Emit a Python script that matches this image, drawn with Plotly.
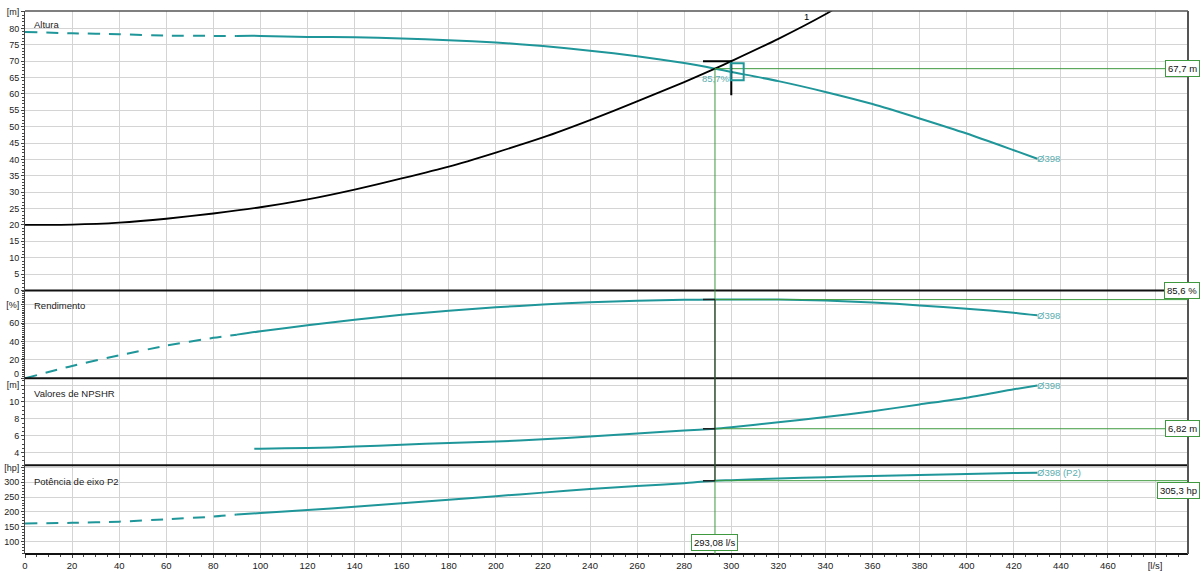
import plotly.graph_objects as go
from plotly.subplots import make_subplots

# ---- pump curve data (flow in l/s) ----
# head curve: dashed extension (low-flow region) and solid working range
head_ext_flow = [0, 20, 40, 60, 80, 90]
head_ext = [78.9, 78.5, 78.2, 77.8, 77.7, 77.7]
head_flow = [90, 100, 120, 140, 160, 180, 200, 220, 240, 260, 280, 293.08,
             300, 320, 340, 360, 380, 400, 420, 430]
head = [77.7, 77.7, 77.4, 77.3, 76.9, 76.4, 75.7, 74.6, 73.2, 71.5, 69.4, 67.7,
        66.7, 63.9, 60.6, 56.9, 52.5, 47.9, 42.8, 40.2]

# system curve "1"
sys_flow = [0, 20, 40, 60, 80, 100, 120, 140, 160, 180, 200, 220, 240, 260,
            280, 293.08, 300, 320, 340, 344]
sys_head = [20.0, 20.1, 20.7, 21.9, 23.5, 25.4, 27.8, 30.8, 34.2, 37.8, 42.1,
            46.7, 52.0, 57.7, 63.6, 67.7, 70.0, 76.8, 84.3, 86.0]

# efficiency
eff_ext_flow = [0, 20, 40, 60, 80, 90]
eff_ext = [0, 13.5, 25.0, 35.5, 44.0, 47.5]
eff_flow = [90, 100, 120, 140, 160, 180, 200, 220, 240, 260, 280, 293.08,
            300, 320, 340, 360, 380, 400, 420, 430]
eff = [47.5, 51.2, 57.6, 63.6, 69.0, 73.5, 77.2, 80.2, 82.7, 84.4, 85.4, 85.6,
       85.7, 85.6, 84.6, 82.5, 79.3, 75.7, 71.4, 68.5]

# NPSHR
npsh_flow = [97.4, 100, 120, 140, 160, 180, 200, 220, 240, 260, 280, 293.08,
             300, 320, 340, 360, 380, 400, 420, 430]
npsh = [4.45, 4.46, 4.53, 4.70, 4.93, 5.12, 5.30, 5.57, 5.90, 6.25, 6.62, 6.82,
        7.00, 7.60, 8.20, 8.90, 9.70, 10.5, 11.5, 11.95]

# shaft power P2
p2_ext_flow = [0, 20, 40, 60, 80, 90]
p2_ext = [161, 163, 167, 175, 184, 191]
p2_flow = [90, 100, 120, 140, 160, 180, 200, 220, 240, 260, 280, 293.08,
           300, 320, 340, 360, 380, 400, 420, 430]
p2 = [191, 196, 206, 217, 229, 241, 253, 265, 277, 287, 297, 305.3,
      307, 312.5, 317, 321, 324, 328, 331, 332]

# duty point
duty_flow = 293.08
duty_head = 67.7
duty_eff = 85.6
duty_npsh = 6.82
duty_p2 = 305.3
req_flow = 300.0
req_head = 70.0
req_head_low = 59.6
tick_start_flow = 288.0
marker_flow = 302.3
marker_head = 66.9
marker_label = "85,7%"

duty_labels = ["67,7 m", "85,6 %", "6,82 m", "305,3 hp", "293,08 l/s"]
curve_label = "Ø398"
curve_label_p2 = "Ø398 (P2)"
system_label = "1"
system_label_pos = (332, 83.5)

panel_titles = ["Altura", "Rendimento", "Valores de NPSHR", "Potência de eixo P2"]

# axis ticks
x_ticks = [0, 20, 40, 60, 80, 100, 120, 140, 160, 180, 200, 220, 240, 260,
           280, 300, 320, 340, 360, 380, 400, 420, 440, 460, 480]
x_tick_text = ["0", "20", "40", "60", "80", "100", "120", "140", "160", "180",
               "200", "220", "240", "260", "280", "300", "320", "340", "360",
               "380", "400", "420", "440", "460", "[l/s]"]
h_ticks = [0, 5, 10, 15, 20, 25, 30, 35, 40, 45, 50, 55, 60, 65, 70, 75, 80, 85]
h_tick_text = ["0", "5", "10", "15", "20", "25", "30", "35", "40", "45", "50",
               "55", "60", "65", "70", "75", "80", "[m]"]
eff_ticks = [0, 20, 40, 60, 80]
eff_tick_text = ["", "20", "40", "60", "[%]"]
eff_zero_label = "0"
npsh_ticks = [4, 6, 8, 10, 12]
npsh_tick_text = ["4", "6", "8", "10", "[m]"]
p2_ticks = [100, 150, 200, 250, 300, 350]
p2_tick_text = ["100", "150", "200", "250", "300", "[hp]"]

FONT = "Liberation Sans, Arial, sans-serif"
FS = 9
TEAL = "#1f9699"
TEAL_TXT = "#5aaeb0"
GREEN = "#3f9a3f"
GRID = "#d4d4d4"
AXIS = "#444444"
DASH = "12px,9px"

fig = make_subplots(rows=4, cols=1, shared_xaxes=True, vertical_spacing=0,
                    row_heights=[280, 88, 87, 89])


def curve(x, y, row, color=TEAL, width=2, dash="solid"):
    fig.add_trace(go.Scatter(x=x, y=y, mode="lines", hoverinfo="skip",
                             showlegend=False,
                             line=dict(color=color, width=width, dash=dash,
                                       shape="spline", smoothing=0.6)),
                  row=row, col=1)


curve(head_ext_flow, head_ext, 1, dash=DASH)
curve(head_flow, head, 1)
curve(sys_flow, sys_head, 1, color="#000000", width=1.8)
curve(eff_ext_flow, eff_ext, 2, dash=DASH)
curve(eff_flow, eff, 2)
curve(npsh_flow, npsh, 3)
curve(p2_ext_flow, p2_ext, 4, dash=DASH)
curve(p2_flow, p2, 4)

x_range = [0, 494]
for r in range(1, 5):
    fig.update_xaxes(row=r, col=1, range=x_range, tickvals=x_ticks,
                     ticktext=x_tick_text, showgrid=True, gridcolor=GRID,
                     gridwidth=1, zeroline=False, showline=False,
                     automargin=False,
                     ticks="outside" if r == 4 else "", ticklen=3,
                     tickcolor=AXIS,
                     tickfont=dict(family=FONT, size=FS + 0.5, color="#222"),
                     showticklabels=(r == 4),
                     minor=dict(dtick=5, ticklen=2, tickcolor=AXIS,
                                ticks="outside" if r == 4 else "",
                                showgrid=False))

y_specs = [
    (1, [0, 85.3], h_ticks, h_tick_text, 1),
    (2, [0, 95.5], eff_ticks, eff_tick_text, 2),
    (3, [2.5, 12.8], npsh_ticks, npsh_tick_text, 0.5),
    (4, [58, 357.6], p2_ticks, p2_tick_text, 10),
]
for r, rng, tv, tt, mdt in y_specs:
    fig.update_yaxes(row=r, col=1, range=rng, tickvals=tv, ticktext=tt,
                     showgrid=True, gridcolor=GRID, gridwidth=1,
                     zeroline=False, showline=True, linecolor=AXIS,
                     linewidth=1, ticks="outside", ticklen=3, tickcolor=AXIS,
                     automargin=False,
                     tickfont=dict(family=FONT, size=FS, color="#222"),
                     minor=dict(dtick=mdt, ticklen=2, tickcolor=AXIS,
                                ticks="outside", showgrid=False))

shapes = []
ydom = ["y domain", "y2 domain", "y3 domain", "y4 domain"]

# panel separators and frame
for yd in ydom:
    shapes.append(dict(type="line", xref="paper", yref=yd, x0=0, x1=1,
                       y0=0, y1=0, line=dict(color="#111", width=2)))
shapes.append(dict(type="line", xref="paper", yref="y domain", x0=0, x1=1,
                   y0=1, y1=1, line=dict(color="#555", width=1.5)))
shapes.append(dict(type="line", xref="paper", yref="paper", x0=1, x1=1,
                   y0=0, y1=1, line=dict(color="#555", width=2)))

# green duty-point guides
shapes.append(dict(type="line", xref="x", yref="y", x0=duty_flow, x1=duty_flow,
                   y0=0, y1=duty_head, line=dict(color=GREEN, width=1)))
for yd in ydom[1:]:
    shapes.append(dict(type="line", xref="x", yref=yd, x0=duty_flow,
                       x1=duty_flow, y0=0, y1=1,
                       line=dict(color=GREEN, width=1)))
for yref, val in [("y", duty_head), ("y2", duty_eff), ("y3", duty_npsh),
                  ("y4", duty_p2)]:
    shapes.append(dict(type="line", xref="x", yref=yref, x0=duty_flow,
                       x1=x_range[1], y0=val, y1=val,
                       line=dict(color=GREEN, width=1)))

# black duty markers in the lower panels
shapes.append(dict(type="line", xref="x", yref="y2", x0=duty_flow,
                   x1=duty_flow, y0=0, y1=duty_eff,
                   line=dict(color="#222", width=1)))
shapes.append(dict(type="line", xref="x", yref="y3 domain", x0=duty_flow,
                   x1=duty_flow, y0=0, y1=1, line=dict(color="#222", width=1)))
shapes.append(dict(type="line", xref="x", yref="y4", x0=duty_flow,
                   x1=duty_flow, y0=duty_p2, y1=400,
                   line=dict(color="#222", width=1)))
for yref, val in [("y2", duty_eff), ("y3", duty_npsh), ("y4", duty_p2)]:
    shapes.append(dict(type="line", xref="x", yref=yref, x0=tick_start_flow,
                       x1=duty_flow, y0=val, y1=val,
                       line=dict(color="#222", width=1.5)))

# requested duty point cross in the head panel
shapes.append(dict(type="line", xref="x", yref="y", x0=tick_start_flow,
                   x1=req_flow, y0=req_head, y1=req_head,
                   line=dict(color="#000", width=2)))
shapes.append(dict(type="line", xref="x", yref="y", x0=req_flow,
                   x1=req_flow, y0=req_head_low, y1=req_head,
                   line=dict(color="#000", width=2)))
# operating marker box on the pump curve
shapes.append(dict(type="rect", xref="x", yref="y", xsizemode="pixel",
                   ysizemode="pixel", xanchor=marker_flow, yanchor=marker_head,
                   x0=-6, x1=7, y0=-9, y1=8,
                   line=dict(color=TEAL, width=2), fillcolor="rgba(0,0,0,0)"))

annotations = []
title_pos = [0.953, 0.833, 0.83, 0.82]
for t, yd, yp in zip(panel_titles, ydom, title_pos):
    annotations.append(dict(text=t, xref="paper", yref=yd, x=0.006, y=yp,
                            xanchor="left", yanchor="middle", showarrow=False,
                            font=dict(family=FONT, size=FS + 0.5, color="#222")))

# efficiency zero label, lifted clear of the NPSHR unit label below it
annotations.append(dict(text=eff_zero_label, xref="paper", yref="y2", x=0,
                        y=0, xanchor="right", yanchor="middle", xshift=-4,
                        yshift=4, showarrow=False,
                        font=dict(family=FONT, size=FS, color="#222")))

# curve end labels
for yref, val, txt in [("y", head[-1], curve_label), ("y2", eff[-1], curve_label),
                       ("y3", npsh[-1], curve_label), ("y4", p2[-1], curve_label_p2)]:
    annotations.append(dict(text=txt, xref="x", yref=yref, x=head_flow[-1],
                            y=val, xanchor="left", yanchor="middle",
                            xshift=-2, showarrow=False,
                            font=dict(family=FONT, size=FS + 0.5, color=TEAL_TXT)))

annotations.append(dict(text=system_label, xref="x", yref="y",
                        x=system_label_pos[0], y=system_label_pos[1],
                        showarrow=False, xanchor="center", yanchor="middle",
                        font=dict(family=FONT, size=FS + 0.5, color="#000")))
annotations.append(dict(text=marker_label, xref="x", yref="y", x=req_flow,
                        y=64.7, showarrow=False, xanchor="right",
                        yanchor="middle",
                        font=dict(family=FONT, size=FS + 0.5, color=TEAL_TXT)))

box = dict(showarrow=False, bgcolor="white", bordercolor=GREEN, borderwidth=1,
           borderpad=2, font=dict(family=FONT, size=FS + 0.5, color="#111"))
right_x = 1.0103
annotations.append(dict(text=duty_labels[0], xref="paper", yref="y",
                        x=right_x, y=duty_head, xanchor="right",
                        yanchor="middle", **box))
annotations.append(dict(text=duty_labels[1], xref="paper", yref="y2 domain",
                        x=right_x, y=1.0, xanchor="right", yanchor="middle",
                        **box))
annotations.append(dict(text=duty_labels[2], xref="paper", yref="y3",
                        x=right_x, y=duty_npsh, xanchor="right",
                        yanchor="middle", **box))
annotations.append(dict(text=duty_labels[3], xref="paper", yref="y4",
                        x=right_x, y=duty_p2, xanchor="right", yanchor="top",
                        yshift=-1, **box))
annotations.append(dict(text=duty_labels[4], xref="x", yref="y4 domain",
                        x=duty_flow, y=0.03, xanchor="center",
                        yanchor="bottom", **box))

fig.update_layout(width=1204, height=572,
                  margin=dict(l=25, r=16, t=11, b=18),
                  paper_bgcolor="white", plot_bgcolor="white",
                  shapes=shapes, annotations=annotations,
                  font=dict(family=FONT, size=FS), showlegend=False)

fig.write_html("out.html")
